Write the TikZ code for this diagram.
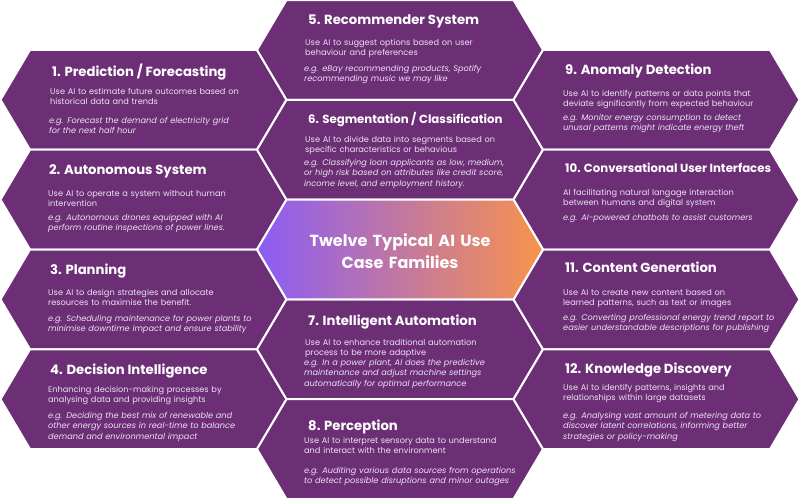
\documentclass[tikz,border=0pt]{standalone}
\usepackage{fontspec}
\setmainfont{Poppins}
\definecolor{cellpurple}{RGB}{108,47,118}
\definecolor{bodytext}{RGB}{236,226,240}
\definecolor{hubleft}{RGB}{139,92,246}
\definecolor{huborange}{RGB}{248,147,76}
% hexagon with centre (#1,#2): half width 143, slant 29.5, half height 49.9
\newcommand\hexcell[2]{(#1-143,#2) -- (#1-113.5,#2-49.9) -- (#1+113.5,#2-49.9) -- (#1+143,#2) -- (#1+113.5,#2+49.9) -- (#1-113.5,#2+49.9) -- cycle}
\begin{document}
\begin{tikzpicture}[x=1pt,y=-1pt,
  cell/.style={fill=cellpurple, draw=white, line width=2pt, line join=miter},
  hub/.style={draw=white, line width=2pt, left color=hubleft, right color=huborange},
  casetitle/.style={anchor=base west, inner sep=0pt, text=white,
    font=\fontsize{13.2}{15}\selectfont\bfseries},
  longtitle/.style={casetitle, font=\fontsize{11.75}{14}\selectfont\bfseries},
  casebody/.style={anchor=base west, inner sep=0pt, text=bodytext,
    text width=250pt, align=left, font=\fontsize{8.2}{10.6}\selectfont},
  caseexample/.style={casebody, font=\fontsize{8.2}{10.6}\selectfont\itshape},
  hubtitle/.style={anchor=base, inner sep=0pt, text=white, text width=240pt,
    align=center, font=\fontsize{16}{22.5}\selectfont\bfseries}]
\useasboundingbox (0,0) rectangle (800,499);
\fill[white] (0,0) rectangle (800,499);

% left column
\path[cell] \hexcell{143.5}{99.8};
\path[cell] \hexcell{143.5}{199.6};
\path[cell] \hexcell{143.5}{299.4};
\path[cell] \hexcell{143.5}{399.2};
% middle column
\path[cell] \hexcell{400}{49.9};
\path[cell] \hexcell{400}{149.7};
\path[cell] \hexcell{400}{349.3};
\path[cell] \hexcell{400}{449.1};
% right column
\path[cell] \hexcell{656.5}{99.8};
\path[cell] \hexcell{656.5}{199.6};
\path[cell] \hexcell{656.5}{299.4};
\path[cell] \hexcell{656.5}{399.2};
% central hub
\shade[hub] \hexcell{400}{249.5};

\node[hubtitle] (hub) at (400,246) {Twelve Typical AI Use\\Case Families};

% 1
\node[casetitle] (t1) at (52,76) {1. Prediction / Forecasting};
\node[casebody] (b1) at (50,94) {Use AI to estimate future outcomes based on\\historical data and trends};
\node[caseexample] (e1) at (49,123) {e.g. Forecast the demand of electricity grid\\for the next half hour};
% 2
\node[casetitle] (t2) at (49,174) {2. Autonomous System};
\node[casebody] (b2) at (48,196) {Use AI to operate a system without human\\intervention};
\node[caseexample] (e2) at (48,220) {e.g. Autonomous drones equipped with AI\\perform routine inspections of power lines.};
% 3
\node[casetitle] (t3) at (50,274) {3. Planning};
\node[casebody] (b3) at (48,295) {Use AI to design strategies and allocate\\resources to maximise the benefit.};
\node[caseexample] (e3) at (48,321) {e.g. Scheduling maintenance for power plants to\\minimise downtime impact and ensure stability};
% 4
\node[casetitle] (t4) at (50,374) {4. Decision Intelligence};
\node[casebody] (b4) at (48,392) {Enhancing decision-making processes by\\analysing data and providing insights};
\node[caseexample] (e4) at (48,418) {e.g. Deciding the best mix of renewable and\\other energy sources in real-time to balance\\demand and environmental impact};
% 5
\node[casetitle] (t5) at (308,24) {5. Recommender System};
\node[casebody] (b5) at (305,45) {Use AI to suggest options based on user\\behaviour and preferences};
\node[caseexample] (e5) at (304,71) {e.g. eBay recommending products, Spotify\\recommending music we may like};
% 6
\node[longtitle] (t6) at (308,123) {6. Segmentation / Classification};
\node[casebody] (b6) at (305,142) {Use AI to divide data into segments based on\\specific characteristics or behavious};
\node[caseexample] (e6) at (304,165) {e.g. Classifying loan applicants as low, medium,\\or high risk based on attributes like credit score,\\income level, and employment history.};
% 7
\node[casetitle] (t7) at (308,325) {7. Intelligent Automation};
\node[casebody] (b7) at (305,345) {Use AI to enhance traditional automation\\process to be more adaptive};
\node[caseexample] (e7) at (304,365) {e.g. In a power plant, AI does the predictive\\maintenance and adjust machine settings\\automatically for optimal performance};
% 8
\node[casetitle] (t8) at (308,430) {8. Perception};
\node[casebody] (b8) at (304,443) {Use AI to interpret sensory data to understand\\and interact with the environment};
\node[caseexample] (e8) at (304,473) {e.g. Auditing various data sources from operations\\to detect possible disruptions and minor outages};
% 9
\node[casetitle] (t9) at (565,74) {9. Anomaly Detection};
\node[casebody] (b9) at (563,96) {Use AI to identify patterns or data points that\\deviate significantly from expected behaviour};
\node[caseexample] (e9) at (563,120) {e.g. Monitor energy consumption to detect\\unusal patterns might indicate energy theft};
% 10
\node[longtitle] (t10) at (565,172) {10. Conversational User Interfaces};
\node[casebody] (b10) at (563,195) {AI facilitating natural langage interaction\\between humans and digital system};
\node[caseexample] (e10) at (563,220) {e.g. AI-powered chatbots to assist customers};
% 11
\node[casetitle] (t11) at (565,272) {11. Content Generation};
\node[casebody] (b11) at (563,295) {Use AI to create new content based on\\learned patterns, such as text or images};
\node[caseexample] (e11) at (563,320) {e.g. Converting professional energy trend report to\\easier understandable descriptions for publishing};
% 12
\node[casetitle] (t12) at (565,373) {12. Knowledge Discovery};
\node[casebody] (b12) at (563,390) {Use AI to identify patterns, insights and\\relationships within large datasets};
\node[caseexample] (e12) at (563,418) {e.g. Analysing vast amount of metering data to\\discover latent correlations, informing better\\strategies or policy-making};
\end{tikzpicture}
\end{document}
